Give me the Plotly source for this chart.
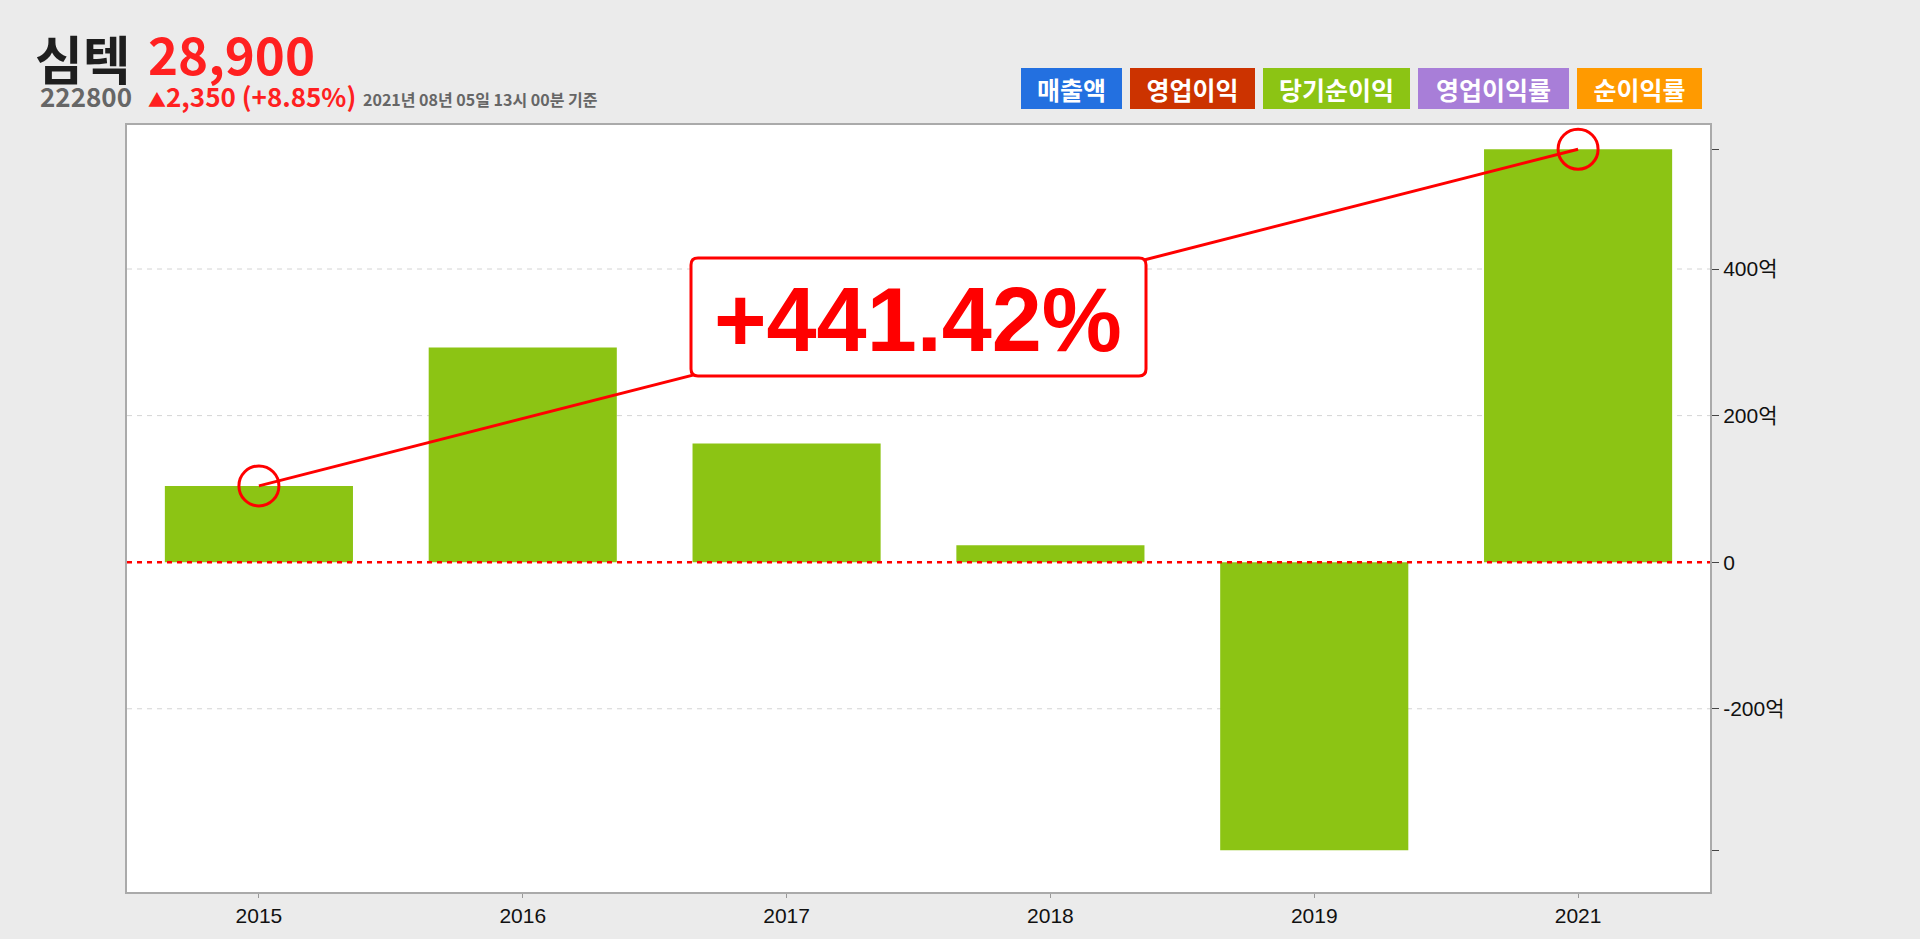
import plotly.graph_objects as go

# 심텍 당기순이익 (억원)
years = ['2015', '2016', '2017', '2018', '2019', '2021']
net_income = [104.1, 293, 162, 23, -393, 563.5]
pct_label = '+441.42%'
y_ticks = [-200, 0, 200, 400]
y_ticktext = ['-200억', '0', '200억', '400억']
legend_items = ['매출액', '영업이익', '당기순이익', '영업이익률', '순이익률']
legend_colors = ['#2370e0', '#cc3300', '#8cc414', '#a87ed8', '#ff9a00']

W, H = 1920, 939
L, R, T, B = 127, 210, 125, 41
PW, PH = W - L - R, H - T - B


def px(x):
    return (x - L) / PW


def py(y):
    return (H - B - y) / PH


def round_box(x0, y0, x1, y1, r):
    # 모서리가 둥근 사각형 (픽셀 -> paper 좌표)
    rx, ry = r / PW, r / PH
    a, b, c, d = px(x0), px(x1), py(y1), py(y0)
    return (f'M {a + rx},{c} L {b - rx},{c} Q {b},{c} {b},{c + ry} '
            f'L {b},{d - ry} Q {b},{d} {b - rx},{d} L {a + rx},{d} '
            f'Q {a},{d} {a},{d - ry} L {a},{c + ry} Q {a},{c} {a + rx},{c} Z')


KR = 'Noto Sans CJK KR'

fig = go.Figure()
fig.add_trace(go.Bar(
    x=years, y=net_income,
    marker=dict(color='#8cc414', line=dict(width=0)),
    width=0.713, showlegend=False, hoverinfo='skip',
))

# 2015 -> 2021 변화선
fig.add_trace(go.Scatter(
    x=[years[0], years[-1]], y=[net_income[0], net_income[-1]],
    mode='lines+markers',
    line=dict(color='#ff0000', width=3),
    marker=dict(symbol='circle-open', size=40, color='#ff0000', line=dict(width=3)),
    showlegend=False, hoverinfo='skip',
))

shapes = []
for v in y_ticks:
    if v == 0:
        continue
    shapes.append(dict(type='line', xref='paper', x0=0, x1=1, yref='y', y0=v, y1=v,
                       line=dict(color='#d4d4d4', width=1, dash='5px,5px'), layer='below'))
shapes.append(dict(type='line', xref='paper', x0=0, x1=1, yref='y', y0=0, y1=0,
                   line=dict(color='#ff0000', width=2.5, dash='5px,5px'), layer='above'))
shapes.append(dict(type='path', xref='paper', yref='paper',
                   path=round_box(691, 259, 1146, 378, 7),
                   fillcolor='white', line=dict(color='#ff0000', width=3), layer='above'))

annotations = [
    dict(text=f'<b>{pct_label}</b>', xref='paper', yref='paper', x=px(918), y=py(322),
         xanchor='center', yanchor='middle', showarrow=False,
         font=dict(family='Liberation Sans', size=90, color='#ff0000')),
    dict(text='<b>심텍</b>', xref='paper', yref='paper', x=px(33), y=py(57),
         xanchor='left', yanchor='middle', showarrow=False,
         font=dict(family=KR, size=52, color='#1e1e1e')),
    dict(text='<b>28,900</b>', xref='paper', yref='paper', x=px(146), y=py(52),
         xanchor='left', yanchor='middle', showarrow=False,
         font=dict(family=KR, size=51, color='#ff2020')),
    dict(text='<b>222800</b>', xref='paper', yref='paper', x=px(38), y=py(95),
         xanchor='left', yanchor='middle', showarrow=False,
         font=dict(family=KR, size=26, color='#666666')),
    dict(text='<b><span style="font-size:18px">▲</span>2,350 (+8.85%)</b>', xref='paper', yref='paper',
         x=px(146), y=py(95), xanchor='left', yanchor='middle', showarrow=False,
         font=dict(family=KR, size=26, color='#ff2020')),
    dict(text='<b>2021년 08년 05일 13시 00분 기준</b>', xref='paper', yref='paper',
         x=px(361), y=py(99), xanchor='left', yanchor='middle', showarrow=False,
         font=dict(family=KR, size=16, color='#666666')),
]

# 범례 버튼
btn_x = [1021, 1130, 1263, 1418, 1577]
btn_w = [101, 125, 147, 151, 125]
for name, col, bx, bw in zip(legend_items, legend_colors, btn_x, btn_w):
    annotations.append(dict(
        text=f'<b>{name}</b>', xref='paper', yref='paper', x=px(bx + bw / 2), y=py(88.5),
        xanchor='center', yanchor='middle', showarrow=False,
        font=dict(family=KR, size=25, color='white'),
        bgcolor=col, borderpad=0, borderwidth=0, width=bw, height=41,
    ))

fig.update_layout(
    width=W, height=H,
    paper_bgcolor='#ebebeb', plot_bgcolor='white',
    margin=dict(l=L, r=R, t=T, b=B),
    shapes=shapes, annotations=annotations,
    font=dict(family='Liberation Sans, ' + KR, size=21, color='#111111'),
)
fig.update_xaxes(
    type='category', showgrid=False, zeroline=False,
    showline=True, linecolor='#aaaaaa', linewidth=2, mirror=True,
    ticks='outside', ticklen=4, tickcolor='#999999',
    tickfont=dict(size=21, color='#111111'),
)
fig.update_yaxes(
    side='right', range=[-450, 596.5], showgrid=False, zeroline=False,
    showline=True, linecolor='#aaaaaa', linewidth=2, mirror=True,
    tickvals=[min(net_income)] + y_ticks + [max(net_income)],
    ticktext=[''] + y_ticktext + [''],
    ticks='outside', ticklen=7, tickcolor='#444444',
    tickfont=dict(size=21, color='#111111'),
)

# 페이지 기본 여백 제거, 모드바 숨김
fig.write_html('out.html', config={'displayModeBar': False},
               post_script="document.body.style.margin='0';"
                           "document.body.style.background='#ebebeb';")
